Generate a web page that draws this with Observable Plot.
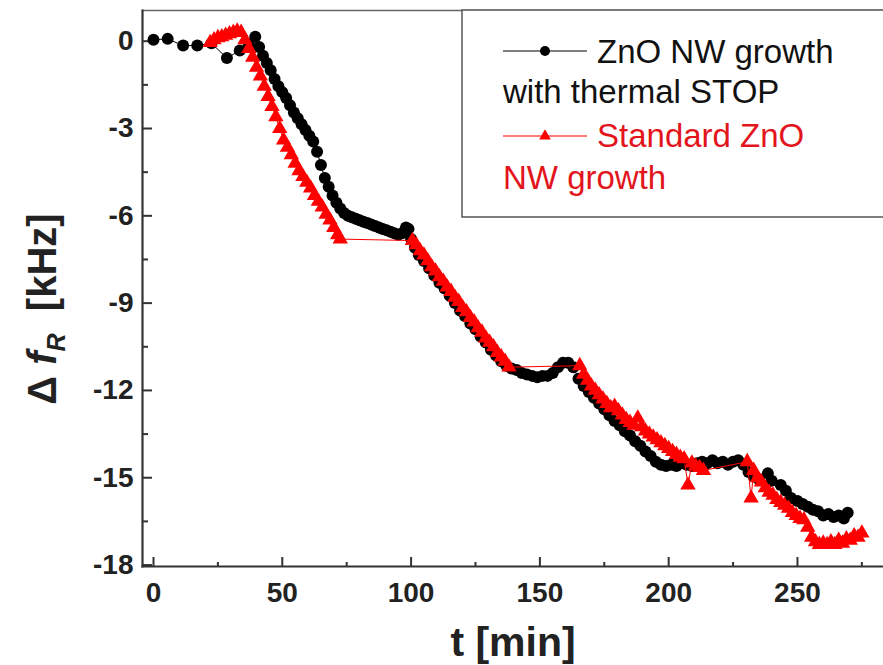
<!DOCTYPE html>
<html><head><meta charset="utf-8">
<script src="https://cdn.jsdelivr.net/npm/d3@7"></script>
<script src="https://cdn.jsdelivr.net/npm/@observablehq/plot@0.6"></script>
<style>
html,body{margin:0;padding:0;background:#fff;}
#wrap{position:relative;width:883px;height:665px;overflow:hidden;}
</style></head><body><div id="wrap"></div>
<script>
// Series 1: ZnO NW growth with thermal STOP (black circles)
const blackT = [0,5.5,11.5,17,22.5,28.5,33.5,37,39.5,41,42.5,44,45.5,47,48.5,50,51.5,53,54.5,56,57.5,59,60.5,62,63.5,65,66.5,68,69.5,71,72.5,74,75.5,77,78.5,80,81.5,83,84.5,86,87.5,89,90.5,92,93.5,95,96.5,98,99,100,101.5,103,105,107,109,111,113,115,117,119,121,123,125,127,129,131,133,135,137,139,141,143,145,147,149,151,153,155,157,159,161,163,165,167,169,171,173,175,177,179,181,183,185,187,189,191,193,195,197,199,201,203,205,207,209,211,213,215,217,219,221,223,225,227,229,231,233,235,238.5,240,243.5,245.5,247.5,250,252,254,256,258,260,262,264,266,268,269.5];
const blackV = [0.05,0.08,-0.15,-0.15,-0.07,-0.58,-0.32,-0.1,0.15,-0.2,-0.5,-0.75,-1.0,-1.3,-1.55,-1.75,-1.95,-2.2,-2.45,-2.65,-2.85,-3.05,-3.25,-3.45,-3.8,-4.25,-4.7,-5.0,-5.3,-5.55,-5.75,-5.9,-6.0,-6.05,-6.1,-6.15,-6.2,-6.25,-6.3,-6.35,-6.4,-6.45,-6.5,-6.55,-6.6,-6.65,-6.6,-6.4,-6.45,-6.8,-7.1,-7.35,-7.55,-7.8,-8.05,-8.3,-8.5,-8.75,-9.0,-9.25,-9.45,-9.7,-9.9,-10.15,-10.35,-10.6,-10.8,-11.0,-11.15,-11.25,-11.3,-11.4,-11.45,-11.5,-11.55,-11.5,-11.5,-11.4,-11.2,-11.05,-11.05,-11.2,-11.6,-11.85,-12.05,-12.25,-12.45,-12.65,-12.85,-13.05,-13.2,-13.4,-13.55,-13.75,-13.9,-14.1,-14.25,-14.45,-14.55,-14.6,-14.55,-14.6,-14.5,-14.55,-14.6,-14.5,-14.45,-14.5,-14.4,-14.5,-14.45,-14.55,-14.45,-14.4,-14.55,-14.8,-14.95,-15.05,-14.85,-15.1,-15.25,-15.45,-15.7,-15.8,-15.9,-16.0,-16.1,-16.15,-16.3,-16.25,-16.35,-16.3,-16.4,-16.2];

// Series 2: Standard ZnO NW growth (red triangles)
const redT = [22,23.5,25,26.5,28,29.5,31,32.5,34,35.5,37,38.5,40,41.5,43,44.5,46,47.5,49,50.5,52,53.5,55,56.5,58,59.5,61,62.5,64,65.5,67,68.5,70,71.5,72.5,100.5,102,103.5,105,106.5,108,109.5,111,112.5,114,115.5,117,118.5,120,121.5,123,124.5,126,127.5,129,130.5,132,133.5,135,136.5,138,165.5,167,168.5,170,171.5,173,174.5,176,177.5,179,180.5,182,183.5,185,186.5,188,189.5,191,192.5,194,195.5,197,198.5,200,201.5,203,204.5,206,207.5,209,210.5,212,213.5,230.5,232,233,234.5,236,237.5,239,240.5,242,243.5,245,246.5,248,249.5,251,252.5,254,255.5,257,258.5,260,261.5,263,264.5,266,267.5,269,270.5,272,273.5,275];
const redV = [-0.05,0.05,0.12,0.15,0.2,0.25,0.3,0.35,0.3,0.05,-0.25,-0.55,-0.9,-1.2,-1.55,-1.9,-2.25,-2.6,-3.0,-3.4,-3.65,-3.9,-4.2,-4.45,-4.65,-4.85,-5.05,-5.3,-5.5,-5.7,-5.95,-6.15,-6.4,-6.65,-6.8,-6.85,-7.0,-7.2,-7.35,-7.55,-7.75,-7.9,-8.1,-8.25,-8.45,-8.6,-8.8,-8.95,-9.15,-9.3,-9.5,-9.65,-9.85,-10.0,-10.2,-10.35,-10.5,-10.7,-10.85,-11.0,-11.2,-11.15,-11.45,-11.65,-11.85,-12.0,-12.15,-12.3,-12.45,-12.6,-12.55,-12.7,-12.85,-13.0,-13.1,-13.2,-12.95,-13.25,-13.4,-13.5,-13.6,-13.7,-13.8,-13.9,-14.0,-14.1,-14.2,-14.3,-14.35,-15.25,-14.5,-14.6,-14.65,-14.75,-14.45,-15.7,-14.75,-15.0,-15.15,-15.35,-15.5,-15.6,-15.75,-15.85,-15.95,-16.05,-16.2,-16.3,-16.4,-16.45,-16.7,-17.05,-17.2,-17.3,-17.25,-17.3,-17.2,-17.3,-17.15,-17.25,-17.1,-17.15,-17.0,-17.05,-16.9];

const xMajor = [0,50,100,150,200,250];
const xMinor = [25,75,125,175,225,275];
const yMajor = [0,-3,-6,-9,-12,-15,-18];
const yMinor = [-1.5,-4.5,-7.5,-10.5,-13.5,-16.5];
const legendLines = [["ZnO NW growth","with thermal STOP"],["Standard ZnO","NW growth"]];

const black = blackT.map((t,i)=>({t, v: blackV[i]}));
const red = redT.map((t,i)=>({t, v: redV[i]}));

const FONT = "'Liberation Sans', Arial, Helvetica, sans-serif";
const RED = "#ff0000";
const tickStyle = {stroke:"#333", strokeWidth:2, label:null};
const labStyle = {fontSize:28, fontWeight:"bold", fill:"#222", label:null};

const chart = Plot.plot({
  width: 883, height: 665,
  marginLeft: 142, marginRight: 0, marginTop: 10, marginBottom: 99,
  x: {domain: [-4.27, 283.4], label: null},
  y: {domain: [-18.05, 1.055], label: null},
  style: {fontFamily: FONT, background: "white", color: "#222"},
  marks: [
    Plot.frame({anchor:"top", stroke:"#666", strokeWidth:1.5}),
    Plot.frame({anchor:"left", stroke:"#333", strokeWidth:2.2}),
    Plot.frame({anchor:"bottom", stroke:"#333", strokeWidth:2.2}),
    Plot.axisX(xMinor, {...tickStyle, tickSize:-4, tickFormat: () => ""}),
    Plot.axisX(xMajor, {...tickStyle, ...labStyle, tickSize:-9, tickPadding:25, tickFormat: d => String(d)}),
    Plot.axisY(yMinor, {...tickStyle, tickSize:-6, tickFormat: () => ""}),
    Plot.axisY(yMajor, {...tickStyle, ...labStyle, tickSize:-10, tickPadding:19, tickFormat: d => String(d)}),
    Plot.line(black, {x:"t", y:"v", stroke:"black", strokeWidth:1}),
    Plot.dot(black, {x:"t", y:"v", r:6, fill:"black", stroke:"none"}),
    Plot.line(red, {x:"t", y:"v", stroke:RED, strokeWidth:1}),
    Plot.dot(red, {x:"t", y:"v", symbol:"triangle", r:5.7, fill:RED, stroke:"none"})
  ]
});
document.getElementById("wrap").appendChild(chart);

const svg = d3.select(chart);
// axis titles
svg.append("text").attr("x", 513).attr("y", 656).attr("text-anchor","middle")
  .attr("font-family", FONT).attr("font-size", 41).attr("font-weight","bold").attr("fill","#222")
  .text("t [min]");
const yl = svg.append("text").attr("transform","translate(56,309) rotate(-90)").attr("text-anchor","middle")
  .attr("font-family", FONT).attr("font-size", 40).attr("font-weight","bold").attr("fill","#222");
yl.append("tspan").text("\u0394 ");
yl.append("tspan").attr("font-style","italic").text("f");
yl.append("tspan").attr("font-style","italic").attr("font-size",25).attr("dy",9).text("R");
yl.append("tspan").attr("dy",-9).text("  [kHz]");

// legend
const lg = svg.append("g").attr("font-family", FONT).attr("font-size", 33).attr("text-anchor","start");
lg.append("rect").attr("x",462).attr("y",10).attr("width",440).attr("height",207)
  .attr("fill","white").attr("stroke","#555").attr("stroke-width",1.5);
const rows = [
  {color:"black", text:"#111", sym:d3.symbolCircle, size:Math.PI*25, ly:51, y1:63, y2:103},
  {color:RED, text:"#e3151c", sym:d3.symbolTriangle, size:60, ly:136, y1:147, y2:189}
];
rows.forEach((r,i)=>{
  lg.append("line").attr("x1",503).attr("x2",587).attr("y1",r.ly).attr("y2",r.ly).attr("stroke",r.color).attr("stroke-width",1.2);
  lg.append("path").attr("d", d3.symbol(r.sym, r.size)()).attr("transform",`translate(545,${r.ly})`).attr("fill",r.color);
  lg.append("text").attr("x",597).attr("y",r.y1).attr("text-anchor","start").attr("fill",r.text).text(legendLines[i][0]);
  lg.append("text").attr("x",503).attr("y",r.y2).attr("text-anchor","start").attr("fill",r.text).text(legendLines[i][1]);
});
</script></body></html>
